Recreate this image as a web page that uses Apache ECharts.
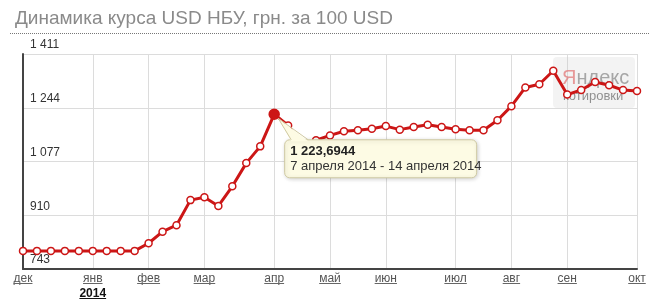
<!DOCTYPE html>
<html><head><meta charset="utf-8">
<script src="https://cdn.jsdelivr.net/npm/echarts@6/dist/echarts.min.js"></script>
<style>html,body{margin:0;padding:0;background:#fff}#c{width:650px;height:303px}</style>
</head><body><div id="c"></div>
<script>
const titleText = 'Динамика курса USD НБУ, грн. за 100 USD';
const weeks = ['02.12.2013','09.12.2013','16.12.2013','23.12.2013','30.12.2013',
  '06.01.2014','13.01.2014','20.01.2014','27.01.2014',
  '03.02.2014','10.02.2014','17.02.2014','24.02.2014',
  '03.03.2014','10.03.2014','17.03.2014','24.03.2014','31.03.2014',
  '07.04.2014','14.04.2014','21.04.2014','28.04.2014',
  '05.05.2014','12.05.2014','19.05.2014','26.05.2014',
  '02.06.2014','09.06.2014','16.06.2014','23.06.2014','30.06.2014',
  '07.07.2014','14.07.2014','21.07.2014','28.07.2014',
  '04.08.2014','11.08.2014','18.08.2014','25.08.2014',
  '01.09.2014','08.09.2014','15.09.2014','22.09.2014','29.09.2014',
  '06.10.2014'];
const rates = [799.3,799.3,799.3,799.3,799.3,799.3,799.3,799.3,799.3,
  823,859,879,957,966,939,1000,1072,1124,
  1223.6944,1189,1120,1143,1158,1171,1174,1179,1187,1176,1184,1191,1184,1177,1174,1174,
  1205,1249,1307,1317,1359,1285,1299,1324,1314,1299,1296];
const monthTicks = [0,5,9,13,18,22,26,31,35,39,44];
const monthNames = ['дек','янв','фев','мар','апр','май','июн','июл','авг','сен','окт'];
const yearTickIndex = 5;
const yearText = '2014';
const yMin = 743, yMax = 1411, yStep = 167;
const highlightIndex = 18;
const highlightValueText = '1 223,6944';
const highlightRangeText = '7 апреля 2014 - 14 апреля 2014';
const watermarkA = 'Я', watermarkB = 'ндекс', watermarkC = 'котировки';

const FF = '"Liberation Sans", Arial, sans-serif';
const RED = '#cc1616';
const chart = echarts.init(document.getElementById('c'), null, {renderer:'canvas'});

function fmtNum(v){ return String(Math.round(v)).replace(/\B(?=(\d{3})+(?!\d))/g,' '); }

const seriesData = rates.map((v,i)=> i===highlightIndex ?
  {value:v, symbolSize:10, itemStyle:{color:RED, borderColor:RED}} : v);

chart.setOption({
  animation:false,
  title:{text:titleText, left:10, top:4, textStyle:{fontSize:19, fontWeight:'normal', color:'#8a8a8a', fontFamily:FF}},
  grid:{left:23, right:13, top:54, bottom:34},
  xAxis:{type:'category', boundaryGap:false, data:weeks,
    axisLine:{lineStyle:{color:'#444', width:2}},
    axisTick:{show:false},
    splitLine:{show:true, interval:(i)=>monthTicks.includes(i), lineStyle:{color:'#dcdcdc', width:1}},
    axisLabel:{interval:(i)=>monthTicks.includes(i), margin:2, hideOverlap:false, showMinLabel:true, showMaxLabel:true,
      fontFamily:FF,
      formatter:(val, i)=>{ const k = monthTicks.indexOf(i); if(k<0) return '';
        return i===yearTickIndex ? '{m|'+monthNames[k]+'}\n{y|'+yearText+'}' : '{m|'+monthNames[k]+'}'; },
      rich:{m:{fontSize:12, color:'#555', fontFamily:FF, lineHeight:15},
            y:{fontSize:12, color:'#111', fontWeight:'bold', fontFamily:FF, lineHeight:15}}}
  },
  yAxis:{type:'value', min:yMin, max:yMax, interval:yStep,
    axisLine:{show:true, lineStyle:{color:'#444', width:2}},
    axisTick:{show:false},
    splitLine:{lineStyle:{color:'#dcdcdc', width:1}},
    axisLabel:{inside:true, margin:7, color:'#333', fontSize:12, fontFamily:FF, verticalAlign:'bottom', padding:[0,0,3,0],
      formatter:(v)=>fmtNum(v)}
  },
  series:[{type:'line', data:seriesData, z:3,
    lineStyle:{color:RED, width:3},
    symbol:'circle', symbolSize:7, showAllSymbol:true,
    itemStyle:{color:'#fff', borderColor:RED, borderWidth:1.5}}]
});

// decorations
const ctx = document.createElement('canvas').getContext('2d');
function tw(t, font){ ctx.font = font; return ctx.measureText(t).width; }
const g = [];
g.push({type:'line', z:1, shape:{x1:10,y1:33.5,x2:650,y2:33.5}, style:{stroke:'#777', lineWidth:1, lineDash:[1,1]}});
monthTicks.forEach((idx,k)=>{
  const x = chart.convertToPixel({xAxisIndex:0}, idx);
  const w = tw(monthNames[k], '12px '+FF);
  g.push({type:'line', z:1, shape:{x1:x-w/2, y1:283.5, x2:x+w/2, y2:283.5}, style:{stroke:'#666', lineWidth:1}});
  if(idx===yearTickIndex){
    const w2 = tw(yearText, 'bold 12px '+FF);
    g.push({type:'line', z:1, shape:{x1:x-w2/2, y1:298.5, x2:x+w2/2, y2:298.5}, style:{stroke:'#111', lineWidth:1}});
  }
});
// watermark
g.push({type:'rect', z:0, shape:{x:553,y:57,width:82,height:51,r:4}, style:{fill:'rgba(200,200,200,0.22)'}});
g.push({type:'text', z:0, style:{x:562, y:78, text:'{a|'+watermarkA+'}{b|'+watermarkB+'}', verticalAlign:'middle',
  rich:{a:{fontSize:20, fill:'rgba(225,120,120,0.75)', fontFamily:FF}, b:{fontSize:20, fill:'rgba(140,140,140,0.75)', fontFamily:FF}}}});
g.push({type:'text', z:0, style:{x:563, y:96, text:watermarkC, fontSize:13, fill:'rgba(120,120,120,0.8)', fontFamily:FF, verticalAlign:'middle'}});
// tooltip
const p = chart.convertToPixel({seriesIndex:0}, [highlightIndex, rates[highlightIndex]]);
const bx = p[0]+10, by = p[1]+25, bw = 192, bh = 38;
g.push({type:'rect', z:50, shape:{x:bx+0.5,y:by+0.5,width:bw,height:bh,r:5},
  style:{fill:'#fdfbe4', stroke:'#cfc9a2', lineWidth:1, shadowBlur:4, shadowColor:'rgba(0,0,0,0.18)', shadowOffsetX:1, shadowOffsetY:1}});
g.push({type:'polygon', z:51, shape:{points:[[p[0]+4,p[1]+4],[bx+7,by+2],[bx+24,by+2]]}, style:{fill:'#fdfbe4'}});
g.push({type:'polyline', z:52, shape:{points:[[bx+7,by+0.5],[p[0]+4,p[1]+4],[bx+24,by+0.5]]}, style:{stroke:'#cfc9a2', lineWidth:1, fill:null}});
g.push({type:'text', z:53, style:{x:bx+6, y:by+12, text:highlightValueText, fontSize:13, fontWeight:'bold', fill:'#222', fontFamily:FF, verticalAlign:'middle'}});
g.push({type:'text', z:53, style:{x:bx+6, y:by+27, text:highlightRangeText, fontSize:13, fill:'#333', fontFamily:FF, verticalAlign:'middle'}});
chart.setOption({graphic:g});
</script></body></html>
